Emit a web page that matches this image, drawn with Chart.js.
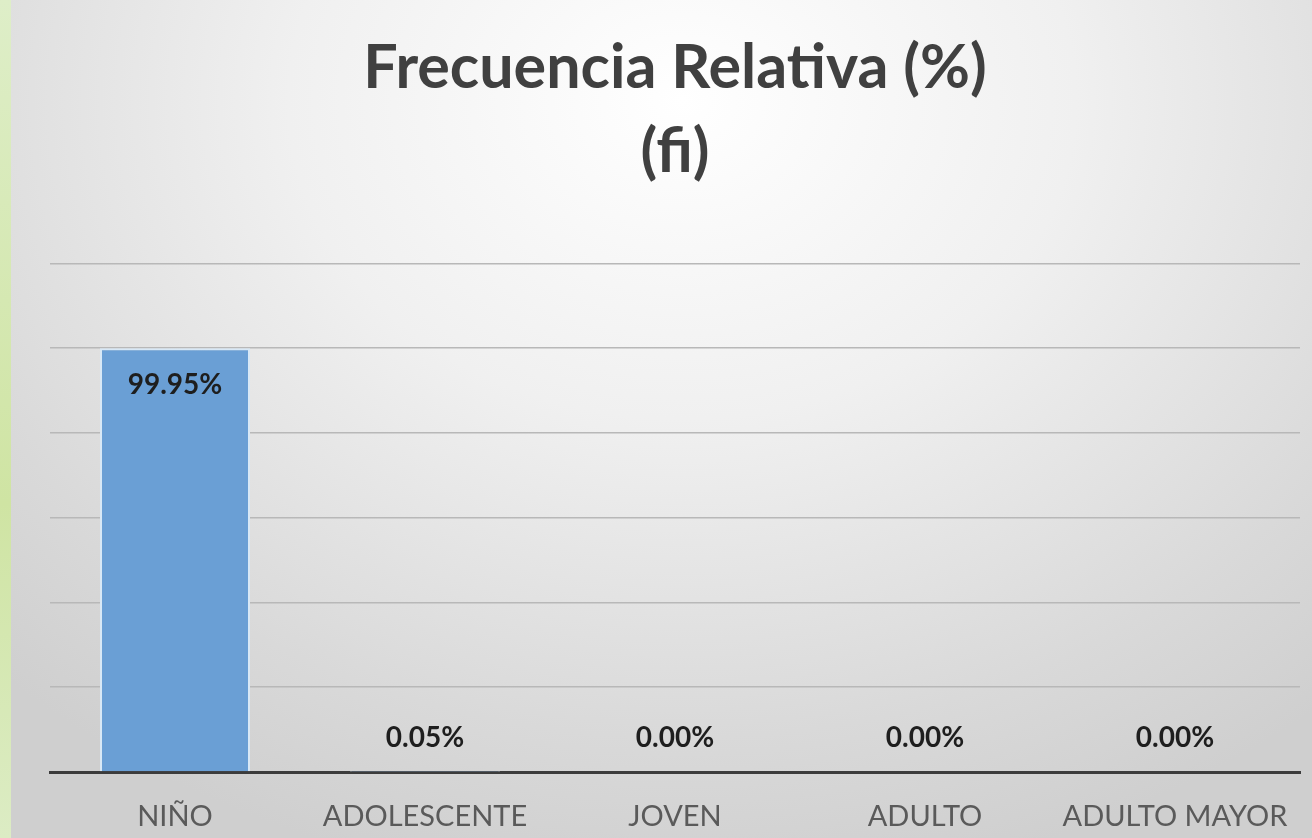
<!DOCTYPE html>
<html>
<head>
<meta charset="utf-8">
<script src="https://cdn.jsdelivr.net/npm/chart.js@4"></script>
<style>
  html, body { margin: 0; padding: 0; width: 1312px; height: 838px; overflow: hidden; }
  body {
    background: radial-gradient(ellipse 75% 95% at 52% 12%, #ffffff 0%, #f0f0f0 40%, #d9d9d9 80%, #cfcfcf 100%);
  }
  #strip {
    position: absolute; left: 0; top: 0; width: 11px; height: 838px;
    background: linear-gradient(to bottom, #deeec8, #cfe4a3 60%, #dcecc4);
  }
  #wrap { position: absolute; left: 12px; top: 0; width: 1300px; height: 838px; }
</style>
</head>
<body>
<div id="strip"></div>
<div id="wrap"><canvas id="myChart"></canvas></div>
<script>
const categories = ['NIÑO', 'ADOLESCENTE', 'JOVEN', 'ADULTO', 'ADULTO MAYOR'];
const percentValues = [99.95, 0.05, 0.00, 0.00, 0.00];
const titleLines = ['Frecuencia Relativa (%)', '(fi)'];

// draws the % labels like Excel: inside the top of tall bars, above short ones
const valueLabels = {
    id: 'valueLabels',
    afterDatasetsDraw(chart) {
        const ctx = chart.ctx;
        const meta = chart.getDatasetMeta(0);
        ctx.save();
        ctx.font = 'bold 28px Lato, "Open Sans", sans-serif';
        ctx.fillStyle = '#1e1e1e';
        ctx.textAlign = 'center';
        ctx.textBaseline = 'middle';
        meta.data.forEach((bar, i) => {
            const txt = percentValues[i].toFixed(2) + '%';
            const h = bar.base - bar.y;
            const y = h > 60 ? bar.y + 37 : bar.y - 34;
            ctx.fillText(txt, bar.x, y);
        });
        ctx.restore();
    }
};

const ctx = document.getElementById('myChart').getContext('2d');
const myChart = new Chart(ctx, {
    type: 'bar',
    data: {
        labels: categories,
        datasets: [{
            data: percentValues,
            backgroundColor: '#6a9fd5',
            borderColor: '#d8e8f6',
            borderWidth: 2,
            barPercentage: 0.6,
            categoryPercentage: 1
        }]
    },
    options: {
        responsive: true,
        maintainAspectRatio: false,
        animation: false,
        layout: { padding: { left: 38, right: 12, top: 0, bottom: 0 } },
        plugins: {
            legend: { display: false },
            tooltip: { enabled: false },
            title: {
                display: true,
                text: titleLines,
                color: '#404040',
                font: { family: 'Lato, "Open Sans", sans-serif', size: 61, weight: 'bold', lineHeight: 1.38 },
                padding: { top: 26, bottom: 69 }
            }
        },
        scales: {
            x: {
                grid: { display: false },
                border: { color: '#3c3c3c', width: 3 },
                ticks: {
                    color: '#5a5a5a',
                    font: { family: 'Lato, "Open Sans", sans-serif', size: 29 },
                    padding: 19
                },
                afterFit: (scale) => { scale.height = 66; }
            },
            y: {
                min: 0,
                max: 120,
                ticks: { stepSize: 20, display: false },
                grid: { color: '#b8b8b8', lineWidth: 1.5, drawTicks: false },
                border: { display: false }
            }
        }
    },
    plugins: [valueLabels]
});
</script>
</body>
</html>
